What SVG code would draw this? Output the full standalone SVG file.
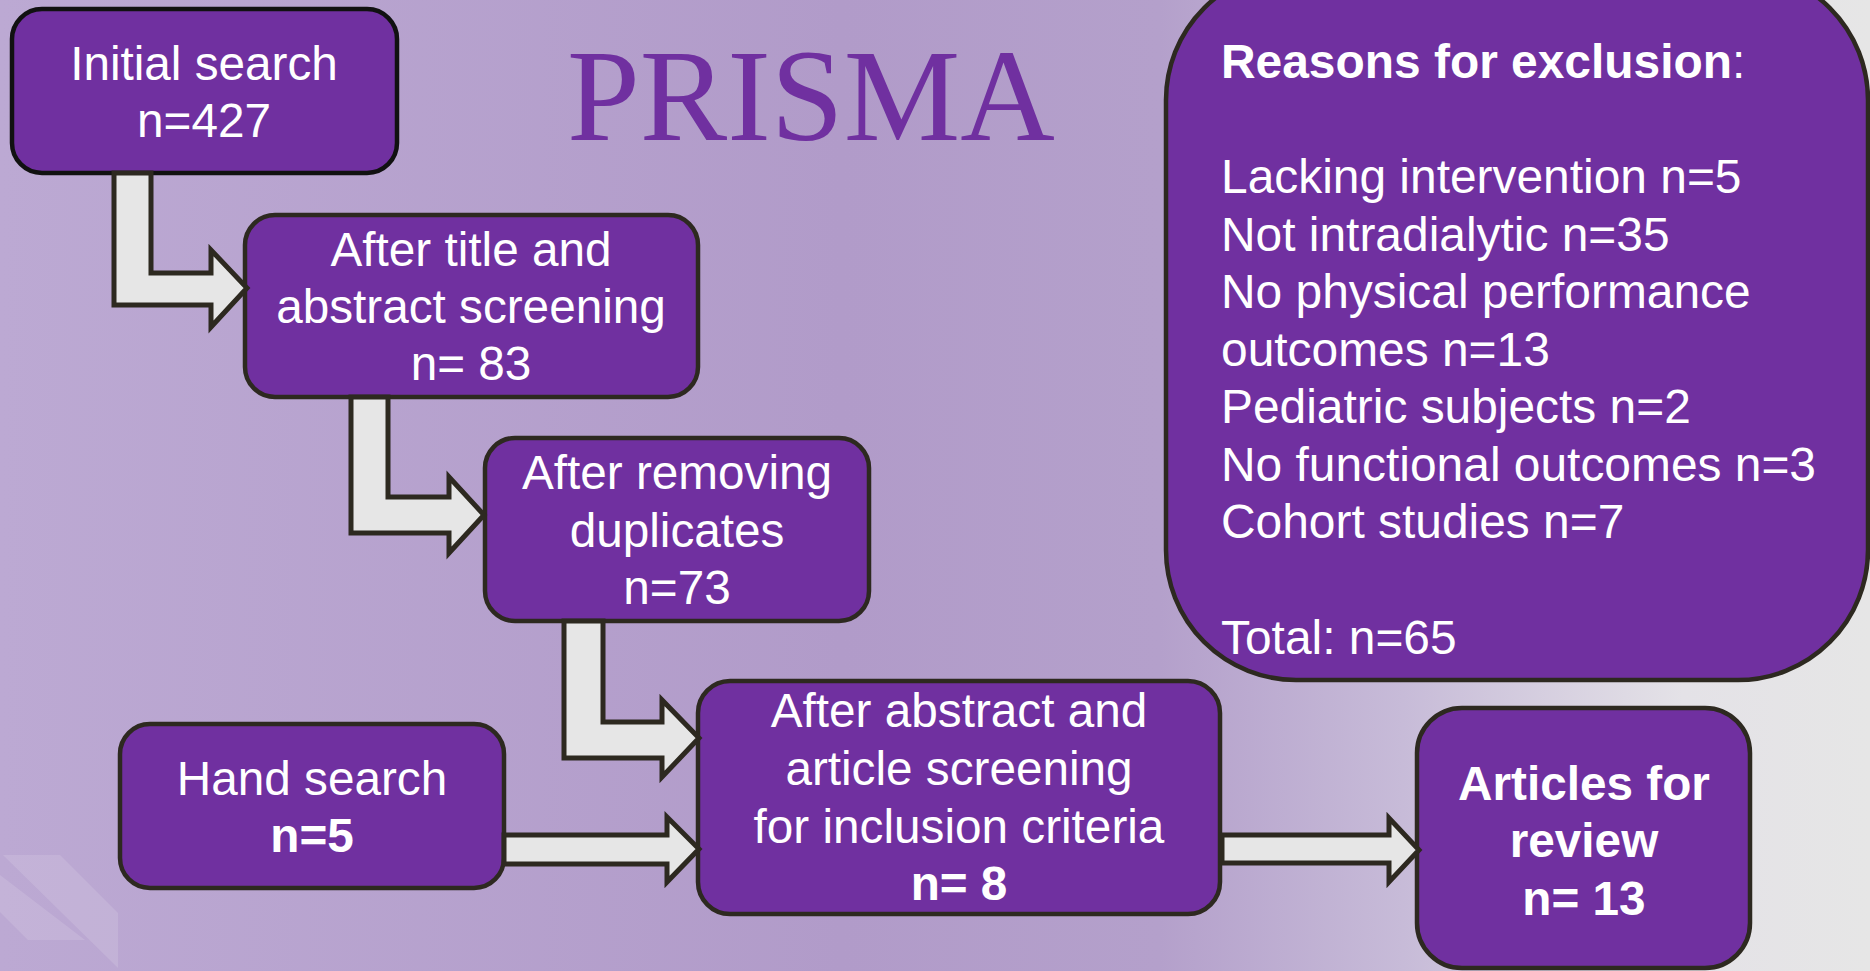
<svg xmlns="http://www.w3.org/2000/svg" width="1870" height="971" viewBox="0 0 1870 971">
<defs>
<linearGradient id="bg" x1="0" y1="0" x2="1" y2="0">
<stop offset="0" stop-color="#bca9d3"/>
<stop offset="0.45" stop-color="#b19bc9"/>
<stop offset="0.62" stop-color="#b4a0cb"/>
<stop offset="0.75" stop-color="#c7bbd8"/>
<stop offset="0.9" stop-color="#e4e2e7"/>
<stop offset="1" stop-color="#e6e6e6"/>
</linearGradient>
<style>
.box{fill:#7030a0;stroke:#2d2920;stroke-width:4.5}
.t{font-family:"Liberation Sans",Arial,sans-serif;font-size:47.7px;fill:#ffffff;text-anchor:middle}
.l{font-family:"Liberation Sans",Arial,sans-serif;font-size:47.9px;fill:#ffffff}
.b{font-weight:bold}
.arr{fill:#e6e6e6;stroke:#2d2920;stroke-width:5;stroke-linejoin:miter}
</style>
</defs>
<rect x="0" y="0" width="1870" height="971" fill="url(#bg)"/>
<g id="decor" fill="#ffffff" opacity="0.12">
<polygon points="3,855 60,855 118,913 118,968"/>
<polygon points="0,875 0,912 28,940 85,940"/>
</g>
<text x="567" y="140" font-family="Liberation Serif,Times New Roman,serif" font-size="131" fill="#7030a0">PRISMA</text>

<g id="node-initial">
<rect class="box" x="12" y="9" width="385" height="164" rx="30" style="stroke:#111"/>
<text class="t" x="204" y="80">Initial search</text>
<text class="t" x="204" y="137">n=427</text>
</g>
<g id="node-title">
<rect class="box" x="245" y="215" width="453" height="182" rx="30"/>
<text class="t" x="471" y="266">After title and</text>
<text class="t" x="471" y="323">abstract screening</text>
<text class="t" x="471" y="380">n= 83</text>
</g>
<g id="node-dup">
<rect class="box" x="485" y="438" width="384" height="183" rx="30"/>
<text class="t" x="677" y="489">After removing</text>
<text class="t" x="677" y="547">duplicates</text>
<text class="t" x="677" y="604">n=73</text>
</g>
<g id="node-screen">
<rect class="box" x="698" y="681" width="522" height="233" rx="32"/>
<text class="t" x="959" y="727">After abstract and</text>
<text class="t" x="959" y="785">article screening</text>
<text class="t" x="959" y="843">for inclusion criteria</text>
<text class="t b" x="959" y="900">n= 8</text>
</g>
<g id="node-hand">
<rect class="box" x="120" y="724" width="384" height="164" rx="30"/>
<text class="t" x="312" y="795">Hand search</text>
<text class="t b" x="312" y="852">n=5</text>
</g>
<g id="node-articles">
<rect class="box" x="1417" y="708" width="333" height="260" rx="45"/>
<text class="t b" x="1584" y="800">Articles for</text>
<text class="t b" x="1584" y="857">review</text>
<text class="t b" x="1584" y="915">n= 13</text>
</g>
<g id="node-reasons">
<rect class="box" x="1166" y="-30" width="702" height="710" rx="130"/>
<text class="l" x="1221" y="78"><tspan class="b">Reasons for exclusion</tspan>:</text>
<text class="l" x="1221" y="193">Lacking intervention n=5</text>
<text class="l" x="1221" y="251">Not intradialytic n=35</text>
<text class="l" x="1221" y="308">No physical performance</text>
<text class="l" x="1221" y="366">outcomes n=13</text>
<text class="l" x="1221" y="423">Pediatric subjects n=2</text>
<text class="l" x="1221" y="481">No functional outcomes n=3</text>
<text class="l" x="1221" y="538">Cohort studies n=7</text>
<text class="l" x="1221" y="654">Total: n=65</text>
</g>

<g id="connectors">
<polygon class="arr" points="114,173 114,305 211,305 211,327 247,288 211,250 211,273 151,273 151,173"/>
<polygon class="arr" points="351,397 351,533 449,533 449,553 484,515 449,477 449,497 388,497 388,397"/>
<polygon class="arr" points="564,621 564,758 662,758 662,777 699,738 662,700 662,722 603,722 603,621"/>
<polygon class="arr" points="504,835 667,835 667,817 699,849 667,882 667,864 504,864"/>
<polygon class="arr" points="1222,835 1389,835 1389,818 1419,850 1389,882 1389,863 1222,863"/>
</g>
</svg>
